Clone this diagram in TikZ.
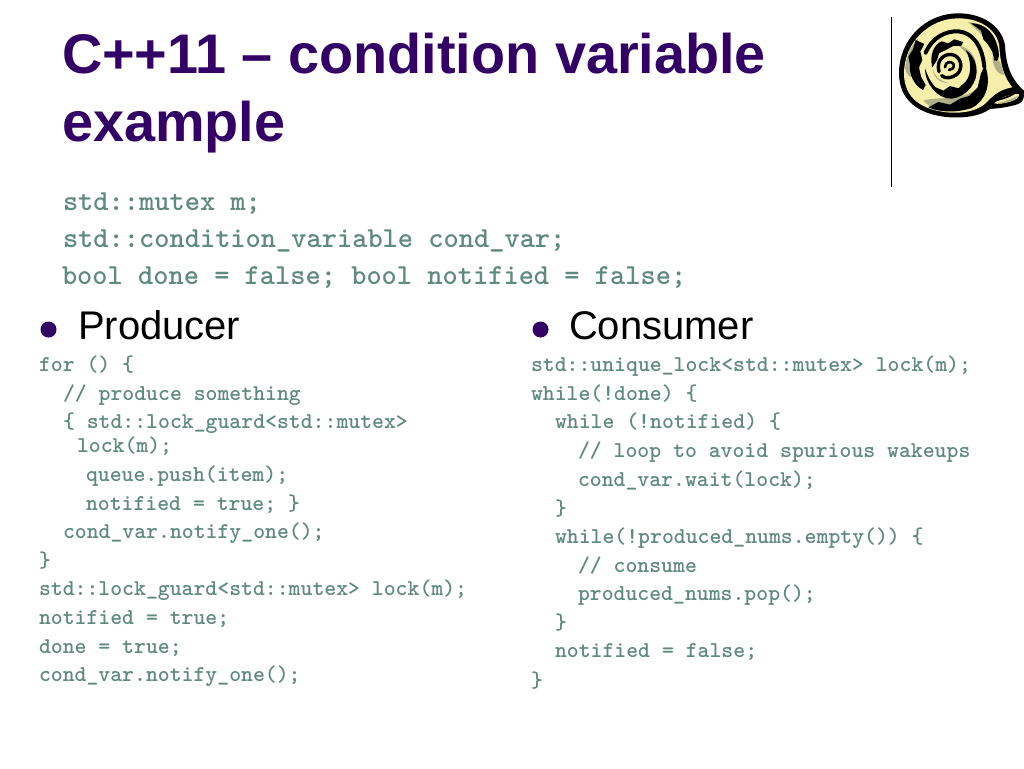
\documentclass[tikz,border=0pt]{standalone}
\usepackage{fontspec}
\setmainfont{Liberation Sans}
\definecolor{titlepurple}{HTML}{330066}
\definecolor{codegreen}{HTML}{5F8A80}
\definecolor{scrollyellow}{HTML}{F6EFAC}
\definecolor{scrollgrey}{HTML}{B0B088}
\newcommand{\px}[1]{\fontsize{#1}{#1}\selectfont}
\tikzset{
  txt/.style={anchor=base west,inner sep=0pt,outer sep=0pt},
  titletext/.style={txt,font=\px{55.8}\bfseries,text=titlepurple},
  headcode/.style={txt,font=\ttfamily\px{29}\bfseries,text=codegreen},
  bodycode/.style={txt,font=\ttfamily\px{22.65}\bfseries,text=codegreen},
  headtext/.style={txt,font=\px{40},text=black},
  bulletdot/.style={circle,fill=titlepurple,inner sep=0pt,minimum size=16pt},
  spiral/.style={draw=black,line cap=round,line join=round,fill=none},
}
\begin{document}
\begin{tikzpicture}[x=1pt,y=-1pt]
\useasboundingbox (0,0) rectangle (1024,768);
\fill[white] (0,0) rectangle (1024,768);
\node[titletext] (t1) at (62,73) {C++11 – condition variable};
\node[titletext] (t2) at (62,141) {example};
\node[headcode] (h1) at (63,210.5) {std::mutex m;};
\node[headcode] (h2) at (63,247.5) {std::condition\_variable cond\_var;};
\node[headcode] (h3) at (62,284.5) {bool done = false; bool notified = false;};
\node[bulletdot] (b1) at (48.5,329.5) {};
\node[headtext] (p) at (78,339) {Producer};
\node[bulletdot] (b2) at (540.5,329.5) {};
\node[headtext] (c) at (569,339) {Consumer};
% left column
\node[bodycode] (l1) at (39,371.2) {for () \{};
\node[bodycode] (l2) at (63,400) {// produce something};
\node[bodycode] (l3) at (63,428.7) {\{ std::lock\_guard<std::mutex>};
\node[bodycode] (l4) at (77,452.7) {lock(m);};
\node[bodycode] (l5) at (86,481.5) {queue.push(item);};
\node[bodycode] (l6) at (86,510) {notified = true; \}};
\node[bodycode] (l7) at (63,538.7) {cond\_var.notify\_one();};
\node[bodycode] (l8) at (39,567.2) {\}};
\node[bodycode] (l9) at (39,595.7) {std::lock\_guard<std::mutex> lock(m);};
\node[bodycode] (l10) at (39,624.3) {notified = true;};
\node[bodycode] (l11) at (39,653) {done = true;};
\node[bodycode] (l12) at (39,681.7) {cond\_var.notify\_one();};
% right column
\node[bodycode] (r1) at (531,371.2) {std::unique\_lock<std::mutex> lock(m);};
\node[bodycode] (r2) at (531,400) {while(!done) \{};
\node[bodycode] (r3) at (555,428.7) {while (!notified) \{};
\node[bodycode] (r4) at (578,457.4) {// loop to avoid spurious wakeups};
\node[bodycode] (r5) at (578,486) {cond\_var.wait(lock);};
\node[bodycode] (r6) at (555,515) {\}};
\node[bodycode] (r7) at (555,543.4) {while(!produced\_nums.empty()) \{};
\node[bodycode] (r8) at (578,572) {// consume};
\node[bodycode] (r9) at (578,600.4) {produced\_nums.pop();};
\node[bodycode] (r10) at (555,629.2) {\}};
\node[bodycode] (r11) at (555,657.4) {notified = false;};
\node[bodycode] (r12) at (531,687) {\}};
% vertical rule
\draw[black,line width=1.2pt] (891.5,17) -- (891.5,187);
% scroll (coordinates of a 3x crop whose corner is at 895,10)
\begin{scope}[x=0.3333pt,y=-0.3333pt,xshift=895pt,yshift=-10pt]
% outer body
\fill[black] (12,190) .. controls (12,90) and (90,10) .. (190,10)
  .. controls (265,10) and (320,50) .. (330,105)
  .. controls (333,170) and (350,210) .. (387,242)
  .. controls (388,265) and (385,275) .. (370,282)
  .. controls (340,292) and (310,295) .. (285,297)
  .. controls (255,318) and (215,324) .. (165,322)
  .. controls (70,315) and (12,270) .. (12,190) -- cycle;
% yellow fill
\fill[scrollyellow] (27,190) .. controls (27,100) and (100,25) .. (190,25)
  .. controls (255,25) and (305,58) .. (313,108)
  .. controls (316,170) and (330,205) .. (352,232)
  .. controls (325,236) and (300,250) .. (280,272)
  .. controls (255,300) and (215,310) .. (165,308)
  .. controls (80,301) and (27,265) .. (27,190) -- cycle;
% tail roll
\fill[scrollyellow] (298,280) .. controls (315,262) and (345,252) .. (372,252)
  .. controls (374,262) and (362,270) .. (345,275) .. controls (325,281) and (310,283) .. (298,280) -- cycle;
\fill[scrollgrey] (312,278) .. controls (332,274) and (352,266) .. (370,256) .. controls (366,268) and (340,280) .. (312,280) -- cycle;
\draw[black,line width=1.8pt,line cap=round] (300,272) .. controls (315,268) and (340,262) .. (355,252);
% grey shadows
\fill[scrollgrey] (30,175) .. controls (35,130) and (50,105) .. (70,85) .. controls (60,120) and (55,150) .. (55,200) .. controls (45,205) and (35,195) .. (30,175) -- cycle;
\fill[scrollgrey] (85,272) .. controls (130,258) and (190,275) .. (240,240) .. controls (230,285) and (180,305) .. (115,298) -- cycle;
\fill[scrollgrey] (218,36) .. controls (260,36) and (285,70) .. (292,110) .. controls (270,88) and (250,60) .. (218,36) -- cycle;
\fill[scrollgrey] (292,145) .. controls (315,140) and (320,170) .. (328,195) .. controls (310,195) and (296,175) .. (292,145) -- cycle;
\fill[scrollgrey] (112,175) .. controls (118,195) and (130,212) .. (160,218) .. controls (140,222) and (115,205) .. (112,175) -- cycle;
\fill[scrollgrey] (190,106) .. controls (220,112) and (240,135) .. (244,165) .. controls (225,140) and (208,122) .. (190,106) -- cycle;
% black bands, slightly uneven
\fill[black] (62,90) -- (88,102) -- (76,125) -- (82,150) -- (72,172) -- (78,200) -- (92,225) -- (84,240)
  .. controls (55,225) and (42,190) .. (45,165) -- (40,140) -- (54,118) -- cycle;
\fill[black] (228,40) .. controls (268,38) and (303,70) .. (311,125) .. controls (313,148) and (308,155) .. (298,152)
  -- (292,125) -- (278,102) -- (265,88) -- (258,62) -- cycle;
\fill[black] (100,292) -- (130,276) -- (165,284) -- (195,266) -- (222,258) -- (248,232) -- (258,190) -- (270,165)
  .. controls (292,225) and (270,275) .. (228,295) .. controls (185,308) and (135,308) .. (100,292) -- cycle;
% spiral
\draw[spiral,line width=4pt] (92,128) .. controls (110,85) and (150,62) .. (190,64) .. controls (235,68) and (262,110) .. (268,170);
\fill[black] (112,172) .. controls (102,135) and (118,102) .. (140,94) -- (160,100) -- (178,88) -- (205,96)
  -- (198,108) -- (175,108) -- (152,120) -- (132,130) -- (126,150) -- cycle;
\fill[black] (90,175) .. controls (88,215) and (125,268) .. (170,266) .. controls (215,262) and (252,215) .. (244,170) .. controls (240,148) and (228,130) .. (212,120)
  .. controls (228,150) and (232,190) .. (212,215) -- (190,235) -- (165,228) -- (145,242) -- (122,232) .. controls (105,215) and (97,195) .. (90,175) -- cycle;
\draw[spiral,line width=3.4pt] (132,185) .. controls (122,148) and (150,130) .. (172,134) .. controls (198,140) and (206,172) .. (187,192) .. controls (172,205) and (150,207) .. (140,197);
\draw[spiral,line width=2.6pt] (150,172) .. controls (150,154) and (170,152) .. (176,163) .. controls (178,174) and (170,180) .. (162,180);
\end{scope}
\end{tikzpicture}
\end{document}
